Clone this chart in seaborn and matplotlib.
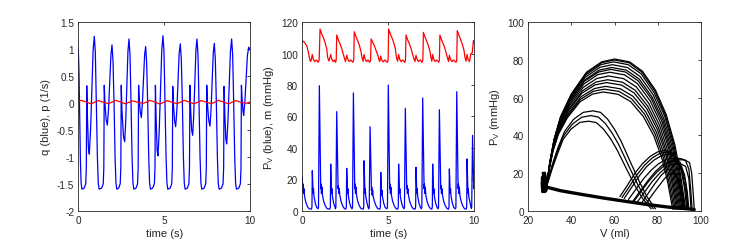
import matplotlib
matplotlib.use("Agg")
import matplotlib.pyplot as plt
from matplotlib.ticker import FuncFormatter
import seaborn as sns

# ---- left panel: q (blue) and p (red) vs time ----
q_t = [0.00, 0.04, 0.08, 0.12, 0.16, 0.21, 0.34, 0.43, 0.465,
       0.49, 0.53, 0.59, 0.64, 0.71, 0.79, 0.86, 0.93, 0.99, 1.05, 1.11, 1.16, 1.21, 1.36, 1.45, 1.485,
       1.51, 1.55, 1.62, 1.69, 1.76, 1.83, 1.90, 1.96, 2.02, 2.08, 2.14, 2.19, 2.24, 2.35, 2.44, 2.475,
       2.50, 2.54, 2.63, 2.70, 2.76, 2.825, 2.89, 2.95, 3.01, 3.07, 3.13, 3.18, 3.23, 3.36, 3.45, 3.485,
       3.51, 3.55, 3.61, 3.67, 3.73, 3.795, 3.86, 3.92, 3.98, 4.04, 4.10, 4.15, 4.20, 4.33, 4.43, 4.465,
       4.49, 4.53, 4.59, 4.64, 4.71, 4.785, 4.86, 4.93, 4.99, 5.05, 5.11, 5.16, 5.21, 5.35, 5.44, 5.475,
       5.50, 5.54, 5.61, 5.67, 5.74, 5.805, 5.87, 5.94, 6.00, 6.06, 6.12, 6.17, 6.22, 6.35, 6.44, 6.475,
       6.50, 6.54, 6.60, 6.66, 6.72, 6.785, 6.85, 6.91, 6.97, 7.03, 7.09, 7.14, 7.19, 7.33, 7.42, 7.455,
       7.48, 7.52, 7.60, 7.67, 7.73, 7.795, 7.86, 7.92, 7.98, 8.04, 8.10, 8.15, 8.20, 8.34, 8.43, 8.465,
       8.49, 8.53, 8.59, 8.64, 8.71, 8.785, 8.86, 8.93, 8.99, 9.05, 9.11, 9.16, 9.21, 9.35, 9.44, 9.475,
       9.50, 9.54, 9.59, 9.63, 9.70, 9.78, 9.85, 9.93, 10.0]
q_v = [1.00, 0.55, -0.30, -1.05, -1.48, -1.60, -1.58, -1.50, -1.20,
       0.32, -0.25, -0.85, -0.95, -0.51, 0.25, 0.98, 1.24, 0.94, 0.00, -1.00, -1.48, -1.60, -1.58, -1.50, -1.20,
       0.33, 0.00, -0.31, -0.41, -0.11, 0.41, 0.90, 1.08, 0.78, 0.00, -1.00, -1.48, -1.60, -1.58, -1.50, -1.20,
       0.33, -0.13, -0.62, -0.72, -0.34, 0.33, 0.96, 1.19, 0.89, 0.00, -1.00, -1.48, -1.60, -1.58, -1.50, -1.20,
       0.33, 0.06, -0.17, -0.27, -0.01, 0.46, 0.89, 1.05, 0.75, 0.00, -1.00, -1.48, -1.60, -1.58, -1.50, -1.20,
       0.33, -0.26, -0.88, -0.98, -0.53, 0.25, 0.98, 1.25, 0.95, 0.00, -1.00, -1.48, -1.60, -1.58, -1.50, -1.20,
       0.31, -0.03, -0.34, -0.44, -0.13, 0.41, 0.91, 1.10, 0.80, 0.00, -1.00, -1.48, -1.60, -1.58, -1.50, -1.20,
       0.33, -0.10, -0.50, -0.60, -0.24, 0.38, 0.98, 1.19, 0.89, 0.00, -1.00, -1.48, -1.60, -1.58, -1.50, -1.20,
       0.33, -0.01, -0.33, -0.43, -0.12, 0.42, 0.93, 1.11, 0.81, 0.00, -1.00, -1.48, -1.60, -1.58, -1.50, -1.20,
       0.31, -0.17, -0.66, -0.76, -0.37, 0.31, 0.96, 1.19, 0.89, 0.00, -1.00, -1.48, -1.60, -1.58, -1.50, -1.20,
       0.33, 0.08, -0.14, -0.23, 0.02, 0.47, 0.89, 1.04, 0.98]

p_t = [0.00, 0.17, 0.45, 0.75, 0.92, 1.17, 1.45, 1.75, 1.92, 2.17, 2.45, 2.75, 2.92,
       3.17, 3.45, 3.75, 3.92, 4.17, 4.45, 4.75, 4.92, 5.17, 5.45, 5.75, 5.92,
       6.17, 6.45, 6.75, 6.92, 7.17, 7.45, 7.75, 7.92, 8.17, 8.45, 8.75, 8.92,
       9.17, 9.45, 9.75, 9.92, 10.0]
p_v = [0.03, 0.05, 0.02, -0.015, 0.01, 0.045, 0.015, -0.01, 0.01, 0.05, 0.02, -0.015, 0.01,
       0.04, 0.015, -0.005, 0.01, 0.05, 0.02, -0.02, 0.005, 0.045, 0.015, -0.01, 0.01,
       0.05, 0.02, -0.015, 0.01, 0.045, 0.015, -0.01, 0.01, 0.05, 0.02, -0.015, 0.01,
       0.045, 0.015, -0.005, 0.01, 0.02]

# ---- middle panel: P_V (blue) and m (red) vs time ----
pv_t = [0.00, 0.02, 0.04, 0.07, 0.10, 0.13, 0.20, 0.30, 0.40, 0.53, 0.56,
        0.58, 0.63, 0.65, 0.68, 0.76, 0.84, 0.91, 0.94, 0.99,
        1.07, 1.09, 1.11, 1.14, 1.17, 1.24, 1.34, 1.44, 1.60, 1.63,
        1.65, 1.70, 1.72, 1.75, 1.83, 1.91, 1.92, 1.95, 2.00,
        2.08, 2.10, 2.12, 2.15, 2.18, 2.25, 2.35, 2.45, 2.53, 2.56,
        2.58, 2.63, 2.65, 2.68, 2.76, 2.84, 2.89, 2.92, 2.97,
        3.05, 3.07, 3.09, 3.12, 3.15, 3.22, 3.32, 3.42, 3.54, 3.57,
        3.59, 3.64, 3.66, 3.69, 3.77, 3.83, 3.86, 3.89, 3.94,
        4.02, 4.04, 4.06, 4.09, 4.12, 4.19, 4.29, 4.39, 4.51, 4.54,
        4.56, 4.61, 4.63, 4.66, 4.74, 4.82, 4.92, 4.95, 5.00,
        5.08, 5.10, 5.12, 5.15, 5.18, 5.25, 5.35, 5.45, 5.55, 5.58,
        5.60, 5.65, 5.67, 5.70, 5.78, 5.86, 5.91, 5.94, 5.99,
        6.07, 6.09, 6.11, 6.14, 6.17, 6.24, 6.34, 6.44, 6.56, 6.59,
        6.61, 6.66, 6.68, 6.71, 6.79, 6.87, 6.92, 6.95, 7.00,
        7.08, 7.10, 7.12, 7.15, 7.18, 7.25, 7.35, 7.45, 7.53, 7.56,
        7.58, 7.63, 7.65, 7.68, 7.76, 7.84, 7.89, 7.92, 7.97,
        8.05, 8.07, 8.09, 8.12, 8.15, 8.22, 8.32, 8.42, 8.50, 8.53,
        8.55, 8.60, 8.62, 8.65, 8.73, 8.81, 8.90, 8.93, 8.98,
        9.06, 9.08, 9.10, 9.13, 9.16, 9.23, 9.33, 9.43, 9.53, 9.56,
        9.58, 9.63, 9.65, 9.68, 9.75, 9.80, 9.83, 9.85, 9.90,
        9.97, 10.0]
pv_v = [22.0, 12.0, 17.0, 11.0, 14.0, 9.0, 5.5, 2.5, 1.2, 1.0, 2.5,
        25.5, 11, 14, 9, 4.5, 2.0, 1.2, 2.0, 79.6,
        14, 17, 11, 15, 10, 6, 3, 1.3, 1.0, 2.5,
        29.7, 11, 14, 9, 4.5, 2.0, 1.2, 2.0, 63.1,
        14, 16, 11, 14, 10, 6, 3, 1.3, 1.0, 2.5,
        27.0, 11, 14, 9, 4.5, 2.0, 1.2, 2.0, 75.0,
        14, 17, 11, 15, 10, 6, 3, 1.3, 1.0, 2.5,
        31.8, 11, 14, 9, 4.5, 2.0, 1.2, 2.0, 53.5,
        13, 15, 10, 13, 9, 6, 3, 1.3, 1.0, 2.5,
        24.4, 10, 13, 9, 4.5, 2.0, 1.2, 2.0, 80.0,
        14, 17, 11, 15, 10, 6, 3, 1.3, 1.0, 2.5,
        29.7, 11, 14, 9, 4.5, 2.0, 1.2, 2.0, 65.2,
        14, 16, 11, 14, 10, 6, 3, 1.3, 1.0, 2.5,
        27.6, 11, 14, 9, 4.5, 2.0, 1.2, 2.0, 71.8,
        14, 17, 11, 15, 10, 6, 3, 1.3, 1.0, 2.5,
        29.7, 11, 14, 9, 4.5, 2.0, 1.2, 2.0, 64.3,
        14, 16, 11, 14, 10, 6, 3, 1.3, 1.0, 2.5,
        26.6, 11, 14, 9, 4.5, 2.0, 1.2, 2.0, 75.8,
        14, 17, 11, 15, 10, 6, 3, 1.3, 1.0, 2.5,
        33.0, 11, 14, 9, 5.0, 2.5, 1.5, 2.5, 48.0,
        14.0, 16.0]

m_t = [0.00, 0.10, 0.26, 0.35, 0.41, 0.47, 0.52, 0.58, 0.64, 0.72, 0.82, 0.92, 0.98,
       1.03, 1.13, 1.22, 1.32, 1.42, 1.47, 1.55, 1.65, 1.71, 1.79, 1.87, 1.93, 1.97,
       2.00, 2.10, 2.19, 2.29, 2.39, 2.45, 2.51, 2.58, 2.64, 2.72, 2.82, 2.94, 2.99,
       3.02, 3.12, 3.21, 3.31, 3.41, 3.47, 3.53, 3.59, 3.65, 3.73, 3.82, 3.92, 3.97,
       4.00, 4.10, 4.19, 4.29, 4.39, 4.45, 4.50, 4.56, 4.62, 4.70, 4.80, 4.94, 4.99,
       5.02, 5.12, 5.21, 5.31, 5.41, 5.47, 5.54, 5.60, 5.66, 5.74, 5.84, 5.96, 6.00,
       6.03, 6.13, 6.22, 6.32, 6.42, 6.48, 6.55, 6.61, 6.67, 6.75, 6.85, 6.97, 7.01,
       7.04, 7.14, 7.23, 7.33, 7.43, 7.48, 7.53, 7.58, 7.64, 7.72, 7.82, 7.93, 7.97,
       8.00, 8.10, 8.19, 8.29, 8.39, 8.45, 8.50, 8.55, 8.61, 8.69, 8.79, 8.94, 8.98,
       9.01, 9.11, 9.20, 9.30, 9.40, 9.46, 9.52, 9.58, 9.64, 9.72, 9.80, 9.88, 9.95, 10.0]
m_v = [108.3, 107.5, 105.0, 101.0, 97.5, 95.0, 96.0, 99.5, 96.5, 95.0, 96.0, 94.5, 96.0,
       115.7, 112.5, 110.4, 107.2, 103.0, 97.7, 95.3, 99.5, 96.5, 95.0, 96.0, 94.5, 96.0,
       111.9, 108.7, 106.4, 103.4, 99.4, 97.0, 95.0, 99.0, 96.5, 95.0, 96.0, 94.5, 96.0,
       114.0, 110.8, 108.5, 105.5, 101.5, 97.5, 95.2, 99.5, 96.5, 95.0, 96.0, 94.5, 96.0,
       109.4, 107.0, 105.0, 102.0, 99.0, 96.5, 95.0, 98.5, 96.0, 94.8, 96.0, 94.5, 96.0,
       115.7, 112.5, 110.2, 107.2, 103.2, 97.7, 95.2, 99.5, 96.5, 95.0, 96.0, 94.5, 96.0,
       111.9, 108.7, 106.4, 103.4, 99.4, 97.0, 95.0, 99.0, 96.5, 95.0, 96.0, 94.5, 96.0,
       113.6, 110.4, 108.1, 105.1, 101.1, 97.5, 95.2, 99.5, 96.5, 95.0, 96.0, 94.5, 96.0,
       111.9, 108.7, 106.4, 103.4, 99.4, 97.0, 95.0, 99.0, 96.5, 95.0, 96.0, 94.5, 96.0,
       114.7, 111.5, 109.2, 106.2, 102.2, 97.5, 95.2, 99.5, 96.5, 95.0, 100.0, 100.5, 108.3, 106.5]

# ---- right panel: P_V vs V loops ----
big_arc_V = [
    [28.5, 30.0, 32.0, 35.0, 40.0, 47.0, 54.0, 60.0, 67.0, 73.0, 79.0, 84.0, 88.0, 90.5, 93.0],
    [28.5, 30.0, 32.0, 35.0, 39.9, 46.9, 53.9, 59.8, 66.8, 72.7, 78.7, 83.6, 87.6, 90.1, 92.6],
    [28.5, 30.0, 31.9, 34.9, 39.8, 46.7, 53.6, 59.5, 66.4, 72.4, 78.3, 83.3, 87.2, 89.7, 92.2],
    [28.5, 30.0, 31.9, 34.8, 39.6, 46.4, 53.2, 59.0, 66.0, 71.9, 77.9, 82.8, 86.8, 89.3, 91.8],
    [28.5, 29.9, 31.8, 34.7, 39.4, 46.2, 52.9, 58.6, 65.5, 71.5, 77.4, 82.4, 86.3, 88.8, 91.3],
    [28.5, 29.9, 31.8, 34.6, 39.3, 45.9, 52.6, 58.2, 65.1, 71.0, 77.0, 81.9, 85.8, 88.3, 90.8],
    [28.5, 29.9, 31.8, 34.5, 39.2, 45.7, 52.2, 57.8, 64.7, 70.6, 76.5, 81.4, 85.4, 87.8, 90.3],
    [28.5, 29.9, 31.7, 34.4, 39.0, 45.4, 51.8, 57.3, 64.2, 70.1, 76.0, 80.9, 84.9, 87.3, 89.8],
    [28.5, 29.9, 31.6, 34.3, 38.8, 45.1, 51.4, 56.8, 63.7, 69.6, 75.5, 80.4, 84.4, 86.8, 89.3],
    [28.5, 29.8, 31.6, 34.2, 38.6, 44.8, 51.0, 56.3, 63.2, 69.1, 75.0, 79.9, 83.9, 86.3, 88.8],
    [28.5, 29.8, 31.5, 34.1, 38.5, 44.5, 50.6, 55.8, 62.7, 68.6, 74.5, 79.4, 83.3, 85.7, 88.2],
    [28.5, 29.8, 31.5, 34.0, 38.3, 44.2, 50.2, 55.3, 62.1, 68.0, 73.9, 78.8, 82.7, 85.1, 87.6],
    [28.5, 29.8, 31.4, 33.9, 38.1, 44.0, 49.8, 54.8, 61.6, 67.5, 73.3, 78.2, 82.1, 84.6, 87.0],
    [28.5, 31.0, 33.6, 36.8, 41.0, 45.5, 50.0, 53.5, 56.8, 60.0, 63.0, 67.5, 71.5, 75.0, 79.0],
    [28.5, 31.0, 33.5, 36.5, 40.5, 44.8, 49.0, 52.5, 55.8, 59.0, 62.0, 66.5, 70.5, 74.0, 78.0],
    [28.5, 31.0, 33.5, 36.2, 40.0, 44.0, 48.0, 51.5, 54.8, 58.0, 61.0, 65.6, 69.5, 73.0, 77.0],
]
big_arc_P = [
    [13, 25.8, 38.0, 50.0, 62.0, 73.5, 79.0, 80.5, 79.0, 74.0, 64.0, 51.0, 35.0, 20.0, 1.0],
    [13, 25.7, 37.8, 49.7, 61.6, 73.0, 78.5, 80.0, 78.5, 73.5, 63.6, 50.7, 34.8, 19.8, 1.0],
    [13, 25.5, 37.4, 49.2, 60.9, 72.1, 77.5, 79.0, 77.5, 72.6, 62.8, 50.1, 34.4, 19.6, 1.0],
    [13, 25.3, 36.9, 48.3, 59.8, 70.8, 76.1, 77.5, 76.0, 71.2, 61.6, 49.1, 33.7, 19.2, 0.9],
    [13, 25.0, 36.3, 47.5, 58.7, 69.4, 74.6, 76.0, 74.6, 69.8, 60.4, 48.2, 33.1, 18.8, 0.9],
    [13, 24.8, 35.9, 47.0, 58.0, 68.6, 73.6, 75.0, 73.6, 68.9, 59.6, 47.6, 32.6, 18.6, 0.9],
    [13, 24.5, 35.4, 46.2, 56.9, 67.2, 72.2, 73.5, 72.1, 67.5, 58.4, 46.6, 32.0, 18.2, 0.9],
    [13, 24.1, 34.6, 45.1, 55.5, 65.4, 70.2, 71.5, 70.1, 65.7, 56.8, 45.3, 31.1, 17.7, 0.9],
    [13, 23.7, 33.9, 44.0, 54.0, 63.6, 68.3, 69.5, 68.2, 63.9, 55.3, 44.1, 30.2, 17.2, 0.8],
    [13, 23.5, 33.4, 43.1, 52.9, 62.3, 66.8, 68.0, 66.7, 62.5, 54.1, 43.1, 29.6, 16.9, 0.8],
    [13, 23.1, 32.6, 42.0, 51.5, 60.5, 64.8, 66.0, 64.7, 60.7, 52.5, 41.8, 28.7, 16.4, 0.8],
    [13, 22.8, 32.1, 41.2, 50.4, 59.1, 63.4, 64.5, 63.3, 59.3, 51.3, 40.9, 28.1, 16.0, 0.8],
    [13, 22.5, 31.5, 40.4, 49.3, 57.8, 61.9, 63.0, 61.8, 57.9, 50.1, 39.9, 27.4, 15.6, 0.8],
    [13, 24.0, 33.0, 42.0, 48.5, 52.2, 53.0, 52.2, 48.6, 43.2, 37.0, 25.5, 15.5, 7.5, 1.0],
    [13, 23.0, 31.5, 40.0, 46.0, 49.6, 50.5, 49.7, 46.2, 41.0, 35.0, 24.0, 14.5, 7.0, 1.0],
    [13, 22.0, 30.0, 38.0, 43.5, 46.9, 47.5, 46.8, 43.4, 38.5, 32.7, 22.1, 13.3, 6.5, 1.0],
]

small_arc_V = [
    [62.5, 66.0, 69.5, 73.0, 76.5, 80.0, 83.5, 86.5, 89.0, 91.0, 92.5, 93.5],
    [63.5, 67.0, 70.5, 74.0, 77.5, 81.0, 84.0, 87.0, 89.5, 91.5, 93.0, 94.0],
    [64.5, 68.0, 71.5, 75.0, 78.5, 82.0, 85.0, 88.0, 90.5, 92.5, 93.7, 94.5],
    [66.5, 70.0, 73.5, 77.0, 80.5, 84.0, 88.0, 91.0, 93.0, 94.5, 95.3, 96.0],
    [69.0, 72.5, 76.0, 79.5, 83.0, 86.5, 89.5, 92.5, 94.8, 95.8, 96.4, 97.0],
    [68.5, 72.0, 75.5, 79.0, 82.5, 86.0, 89.0, 91.0, 92.8, 93.6, 94.0],
    [70.5, 74.0, 77.5, 81.0, 84.5, 87.5, 90.5, 93.0, 94.5, 95.1, 95.5],
    [72.5, 75.5, 78.5, 81.5, 84.5, 87.0, 89.0, 90.5, 91.5],
    [74.5, 77.5, 80.5, 83.2, 86.0, 88.3, 90.2, 91.5, 92.5],
]
small_arc_P = [
    [7.5, 13.5, 20.0, 25.0, 28.8, 31.2, 32.0, 31.0, 27.5, 21.0, 12.0, 1.0],
    [7.0, 13.0, 19.2, 24.2, 28.0, 30.4, 31.0, 30.0, 26.5, 20.0, 11.0, 1.0],
    [6.5, 12.5, 18.5, 23.5, 27.0, 29.3, 30.0, 29.0, 25.5, 19.0, 10.5, 1.0],
    [6.0, 11.5, 17.0, 21.5, 25.0, 27.2, 28.0, 27.6, 26.5, 22.0, 12.0, 1.0],
    [5.0, 10.5, 15.8, 20.3, 23.8, 26.2, 27.0, 27.0, 25.5, 20.0, 11.0, 1.0],
    [5.0, 10.5, 16.0, 20.8, 24.5, 26.5, 26.0, 23.0, 16.0, 8.0, 1.0],
    [4.5, 10.0, 15.5, 20.0, 23.5, 25.0, 25.0, 23.5, 17.0, 8.0, 1.0],
    [4.0, 9.0, 14.0, 18.5, 22.0, 21.5, 17.5, 11.0, 1.0],
    [3.5, 8.5, 13.0, 17.0, 20.0, 19.3, 15.0, 9.0, 1.0],
]

blob_V = [28.5, 27.4, 26.8, 27.9, 28.4, 26.6, 26.3, 27.3, 28.2, 27.5, 26.7, 26.4,
          27.6, 28.5, 27.8, 26.9, 26.5, 27.2, 28.4]
blob_P = [13.0, 18.5, 20.0, 16.5, 11.0, 10.0, 14.5, 19.5, 15.5, 10.5, 12.0, 17.5,
          20.0, 14.0, 10.0, 11.5, 16.0, 18.5, 12.5]

fill_V = [28.5, 35.0, 45.0, 55.0, 65.0, 75.0, 85.0, 95.0, 97.0]
fill_P = [12.5, 10.6, 8.6, 6.7, 5.0, 3.3, 1.9, 0.9, 0.6]

# ---- styling (MATLAB-like) ----
sns.set_theme(style="white")
plt.rcParams["font.family"] = ["Liberation Sans", "DejaVu Sans"]
plt.rcParams["mathtext.fontset"] = "custom"
plt.rcParams["mathtext.rm"] = "Liberation Sans"
plt.rcParams["mathtext.it"] = "Liberation Sans"
plt.rcParams["axes.unicode_minus"] = False

axis_col = "#262626"


def matlab_axes(ax):
    for s in ax.spines.values():
        s.set_color(axis_col)
        s.set_linewidth(0.6)
    ax.tick_params(direction="in", length=2.5, width=0.6, colors=axis_col,
                   labelsize=7.2, top=True, right=True, pad=3)
    ax.xaxis.set_major_formatter(FuncFormatter(lambda v, _: "%g" % v))
    ax.yaxis.set_major_formatter(FuncFormatter(lambda v, _: "%g" % v))


fig = plt.figure(figsize=(7.39, 2.51), dpi=100)
fig.patch.set_facecolor("white")
ax1 = fig.add_axes([0.1060, 0.1566, 0.2323, 0.7506])
ax2 = fig.add_axes([0.4091, 0.1566, 0.2327, 0.7506])
ax3 = fig.add_axes([0.7149, 0.1566, 0.2333, 0.7506])

# left
sns.lineplot(x=q_t, y=q_v, ax=ax1, color="blue", lw=0.9, estimator=None, sort=False)
sns.lineplot(x=p_t, y=p_v, ax=ax1, color="red", lw=0.9, estimator=None, sort=False)
ax1.set_xlim(0, 10)
ax1.set_ylim(-2, 1.5)
ax1.set_xticks([0, 5, 10])
ax1.set_yticks([-2, -1.5, -1, -0.5, 0, 0.5, 1, 1.5])
ax1.set_xlabel("time (s)", fontsize=8, color=axis_col, labelpad=2)
ax1.set_ylabel("q (blue), p (1/s)", fontsize=8, color=axis_col, labelpad=4)
matlab_axes(ax1)

# middle
sns.lineplot(x=pv_t, y=pv_v, ax=ax2, color="blue", lw=0.9, estimator=None, sort=False)
sns.lineplot(x=m_t, y=m_v, ax=ax2, color="red", lw=0.9, estimator=None, sort=False)
ax2.set_xlim(0, 10)
ax2.set_ylim(0, 120)
ax2.set_xticks([0, 5, 10])
ax2.set_yticks([0, 20, 40, 60, 80, 100, 120])
ax2.set_xlabel("time (s)", fontsize=8, color=axis_col, labelpad=2)
ax2.set_ylabel(r"P$_\mathrm{V}$ (blue), m (mmHg)", fontsize=8, color=axis_col, labelpad=4)
matlab_axes(ax2)

# right
sns.lineplot(x=fill_V, y=fill_P, ax=ax3, color="black", lw=2.4, estimator=None, sort=False)
for vv, pp in zip(big_arc_V, big_arc_P):
    sns.lineplot(x=vv, y=pp, ax=ax3, color="black", lw=0.9, estimator=None, sort=False)
for vv, pp in zip(small_arc_V, small_arc_P):
    sns.lineplot(x=vv, y=pp, ax=ax3, color="black", lw=0.9, estimator=None, sort=False)
sns.lineplot(x=blob_V, y=blob_P, ax=ax3, color="black", lw=2.0, estimator=None, sort=False)
ax3.set_xlim(20, 100)
ax3.set_ylim(0, 100)
ax3.set_xticks([20, 40, 60, 80, 100])
ax3.set_yticks([0, 20, 40, 60, 80, 100])
ax3.set_xlabel("V (ml)", fontsize=8, color=axis_col, labelpad=2)
ax3.set_ylabel(r"P$_\mathrm{V}$ (mmHg)", fontsize=8, color=axis_col, labelpad=4)
matlab_axes(ax3)

fig.savefig("out.png", dpi=100, facecolor="white")
